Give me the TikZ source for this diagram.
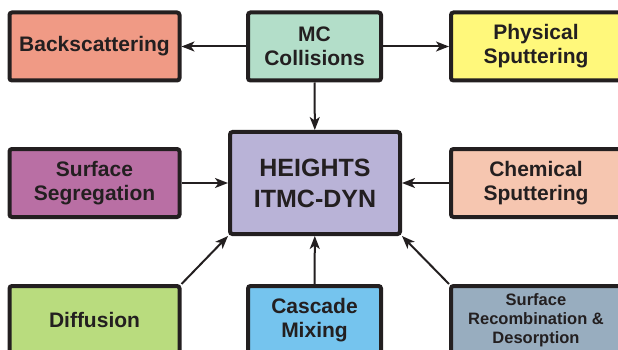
\documentclass[tikz,border=0pt]{standalone}
\usepackage{fontspec}
\setmainfont{Liberation Sans}
\usetikzlibrary{arrows.meta}
\definecolor{edgeline}{HTML}{231F20}
\definecolor{backcol}{HTML}{F09A85}
\definecolor{mccol}{HTML}{B3DEC9}
\definecolor{physcol}{HTML}{FFF87B}
\definecolor{segcol}{HTML}{B96FA4}
\definecolor{heightscol}{HTML}{B9B3D7}
\definecolor{chemcol}{HTML}{F6C6B0}
\definecolor{diffcol}{HTML}{B9DC7E}
\definecolor{cascol}{HTML}{75C4EE}
\definecolor{recombcol}{HTML}{98ADBF}
\tikzset{
    procbox/.style={draw=edgeline,line width=4pt,rounded corners=2.5pt,align=center,
        inner sep=0pt,minimum height=68pt,text=edgeline,
        font=\bfseries\fontsize{21}{24}\selectfont},
    flow/.style={draw=edgeline,line width=2pt,-{Stealth[length=13pt,width=10pt,inset=3.5pt]}}
}
\begin{document}
\begin{tikzpicture}[x=1pt,y=-1pt]
            \useasboundingbox (0,0) rectangle (618,350);
            \node[procbox,fill=backcol,minimum width=170pt] (back) at (94.5,46.5) {Backscattering};
            \node[procbox,fill=mccol,minimum width=133pt] (mc) at (314.5,46.5) {MC\\Collisions};
            \node[procbox,fill=physcol,minimum width=170pt] (phys) at (536,46.5) {Physical\\Sputtering};
            \node[procbox,fill=segcol,minimum width=170pt] (seg) at (94.5,183) {Surface\\Segregation};
            \node[procbox,fill=heightscol,minimum width=170pt,minimum height=102pt,
                font=\bfseries\fontsize{25}{31}\selectfont] (heights) at (315,183) {HEIGHTS\\ITMC-DYN};
            \node[procbox,fill=chemcol,minimum width=170pt] (chem) at (536,183) {Chemical\\Sputtering};
            \node[procbox,fill=diffcol,minimum width=170pt] (diff) at (94.5,320) {Diffusion};
            \node[procbox,fill=cascol,minimum width=133pt] (casc) at (314.5,320) {Cascade\\Mixing};
            \node[procbox,fill=recombcol,minimum width=170pt,
                font=\bfseries\fontsize{16.5}{19}\selectfont] (recomb) at (536,320) {Surface\\Recombination \&\\Desorption};
            \draw[flow] (mc) -- (back);
            \draw[flow] (mc) -- (phys);
            \draw[flow] (mc) -- (heights);
            \draw[flow] (seg) -- (heights);
            \draw[flow] (chem) -- (heights);
            \draw[flow] (diff.north east) -- (heights.south west);
            \draw[flow] (casc) -- (heights);
            \draw[flow] (recomb.north west) -- (heights.south east);
        \end{tikzpicture}
\end{document}
